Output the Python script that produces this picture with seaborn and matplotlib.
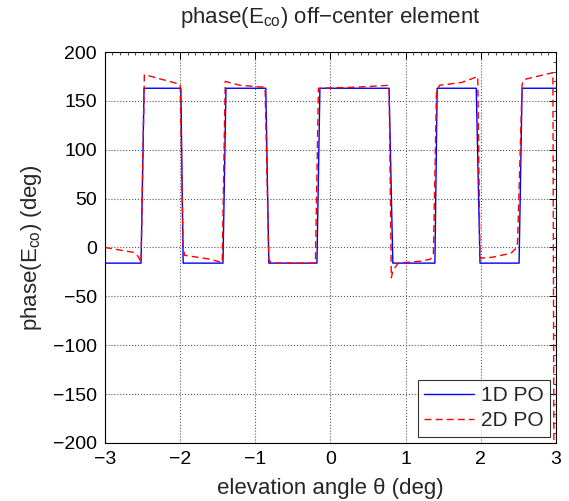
import numpy as np
import pandas as pd
import matplotlib
matplotlib.use("Agg")
import matplotlib.pyplot as plt
from matplotlib.ticker import MultipleLocator
import seaborn as sns

# 1D PO: square-wave phase (deg) vs elevation angle (deg)
po1_x = [-3.0, -2.52, -2.48, -1.99, -1.96, -1.43, -1.39, -0.86, -0.82, -0.18, -0.14,
         0.78, 0.83, 1.39, 1.42, 1.94, 1.99, 2.51, 2.55, 3.0]
po1_y = [-16, -16, 163, 163, -16, -16, 163, 163, -16, -16, 163,
         163, -16, -16, 163, 163, -16, -16, 163, 163]

# 2D PO: same shape with sloped plateaus and a final drop near 3 deg
po2_x = [-3.0, -2.62, -2.56, -2.52, -2.476, -2.0, -1.96, -1.94, -1.6, -1.44,
         -1.40, -1.2, -0.87, -0.82, -0.79, -0.2, -0.16, 0.3, 0.78,
         0.81, 0.83, 0.9, 1.2, 1.33, 1.37, 1.41, 1.45, 1.75, 1.96,
         1.99, 2.15, 2.4, 2.48, 2.49, 2.55, 2.58, 2.96, 2.975]
po2_y = [0, -5, -9, -15, 177, 167, 0, -8, -12, -15.5,
         170, 166, 164, -12, -16, -16, 163, 164, 166,
         -31, -24, -16, -14, -12, -7, 158, 166, 169, 175,
         -11, -10, -6, 0, 6, 167, 172, 179, -260]

df1 = pd.DataFrame({"theta": po1_x, "phase": po1_y})
df2 = pd.DataFrame({"theta": po2_x, "phase": po2_y})

sns.set_style("white")
plt.rcParams["font.family"] = ["Liberation Sans", "DejaVu Sans"]
plt.rcParams["mathtext.fontset"] = "custom"
plt.rcParams["mathtext.rm"] = "Liberation Sans"
plt.rcParams["mathtext.it"] = "Liberation Sans"
plt.rcParams["axes.unicode_minus"] = True

fig = plt.figure(figsize=(5.69, 5.01), dpi=100)
ax = fig.add_axes([0.1845, 0.116, 0.7925, 0.78])

sns.lineplot(data=df1, x="theta", y="phase", color="#0000ff", lw=1.0,
             sort=False, estimator=None, label="1D PO", ax=ax)
sns.lineplot(data=df2, x="theta", y="phase", color="#ff0000", lw=1.0,
             dashes=False, linestyle=(0, (5, 3)), sort=False, estimator=None,
             label="2D PO", ax=ax)

ax.set_xlim(-3, 3)
ax.set_ylim(-200, 200)
ax.xaxis.set_major_locator(MultipleLocator(1))
ax.yaxis.set_major_locator(MultipleLocator(50))
ax.xaxis.set_minor_locator(MultipleLocator(0.1))
ax.yaxis.set_minor_locator(MultipleLocator(10))
ax.tick_params(which="both", direction="in", top=True, right=True,
               labelsize=14, colors="black")
ax.tick_params(which="major", length=5, width=0.7, pad=6)
ax.tick_params(which="minor", length=2.5, width=0.5)
ax.grid(True, which="major", linestyle=":", color="0.35", linewidth=0.8)
for s in ax.spines.values():
    s.set_color("black")
    s.set_linewidth(0.8)

ax.set_title("phase(E$_{\\rm co}$) off\u2212center element", fontsize=16, pad=21)
ax.set_xlabel("elevation angle \u03b8 (deg)", fontsize=16, labelpad=7)
ax.set_ylabel("phase(E$_{\\rm co}$) (deg)", fontsize=16, labelpad=6)

leg = ax.legend(loc="lower right", fontsize=15, frameon=True, fancybox=False,
                edgecolor="black", borderaxespad=0.3, handlelength=2.4,
                labelspacing=0.3, borderpad=0.3, handletextpad=0.3)
leg.get_frame().set_linewidth(0.8)

fig.savefig("out.png", dpi=100)
